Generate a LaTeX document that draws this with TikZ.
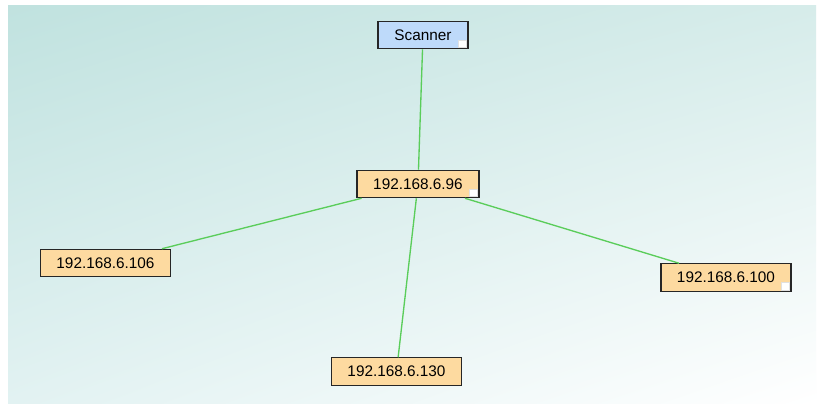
\documentclass[tikz,border=0pt]{standalone}
\usepackage{fontspec}
\setmainfont{Liberation Sans}
\usetikzlibrary{positioning,shadings}
\definecolor{hostfill}{RGB}{253,218,160}
\definecolor{scanfill}{RGB}{190,218,250}
\definecolor{linkgreen}{RGB}{90,205,90}
\definecolor{bgteal}{RGB}{192,226,223}
\definecolor{bgtop}{RGB}{214,236,234}
\definecolor{bgleft}{RGB}{226,242,242}

\begin{document}
\begin{tikzpicture}[x=0.75pt,y=-0.75pt,
    host/.style={draw=black!85, line width=0.9pt, fill=hostfill, minimum height=20.5pt,
        inner sep=0pt, font=\fontsize{11.5}{13}\selectfont},
    scanbox/.style={host, fill=scanfill},
    link/.style={draw=linkgreen, line width=1pt},
    handle/.style={fill=white, draw=black!12, line width=0.3pt}]
    % background
    \fill[white] (0,0) rectangle (820,411);
    \shade[upper left=bgteal, upper right=bgtop, lower left=bgleft, lower right=white]
        (8,5) rectangle (816,403);
    % nodes
    \node[scanbox, minimum width=67.5pt] (scan) at (423,35) {Scanner\hspace{8pt}};
    \node[host, minimum width=91.5pt] (h96) at (418,184) {192.168.6.96\hspace{6pt}};
    \node[host, minimum width=98pt] (h106) at (105.5,263) {192.168.6.106};
    \node[host, minimum width=97.5pt] (h100) at (726,277.5) {192.168.6.100\hspace{4pt}};
    \node[host, minimum width=98pt] (h130) at (396.5,371.5) {192.168.6.130};
    % small handles
    \foreach \n in {scan,h96,h100}
        \draw[handle] ([shift={(-1.5pt,1.5pt)}]\n.south east) rectangle ++(-6.5pt,5.5pt);
    % links
    \draw[link] (scan) -- (h96);
    \draw[link] (h96) -- (h106);
    \draw[link] (h96) -- (h100);
    \draw[link] (h96) -- (h130);
\end{tikzpicture}
\end{document}
